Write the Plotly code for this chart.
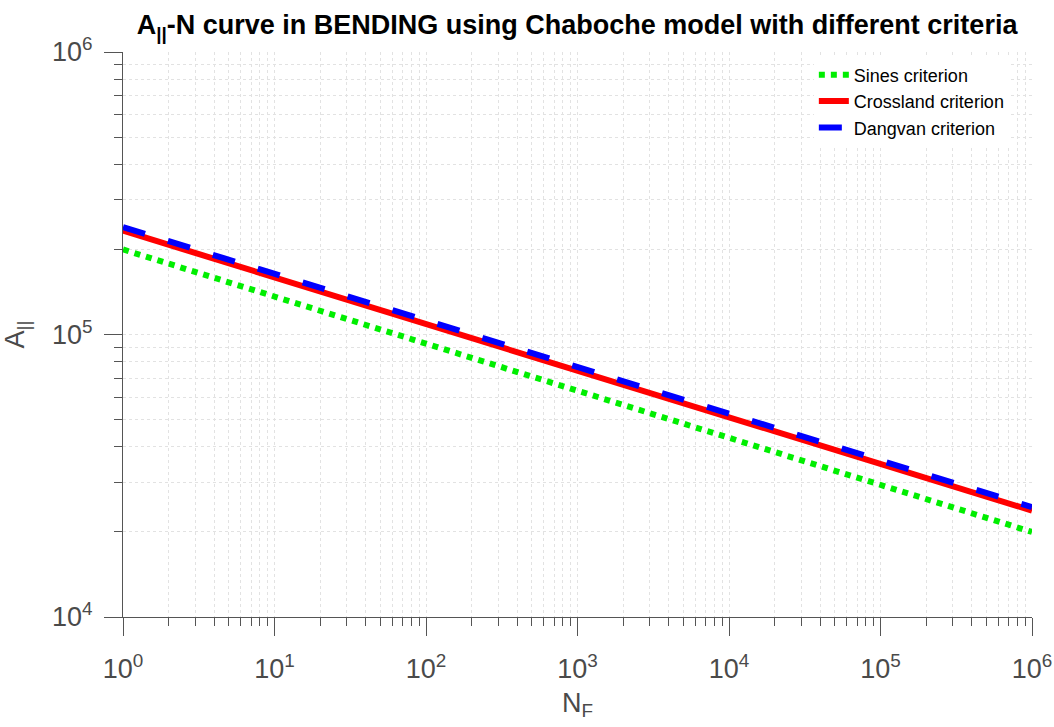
import plotly.graph_objects as go

# Data
N_F = [1, 1e1, 1e2, 1e3, 1e4, 1e5, 1e6]
sines = [2.0e5, 1.36e5, 9.3e4, 6.3e4, 4.3e4, 2.93e4, 2.0e4]
crossland = [2.33e5, 1.59e5, 1.09e5, 7.45e4, 5.08e4, 3.47e4, 2.38e4]
dangvan = [2.40e5, 1.64e5, 1.12e5, 7.67e4, 5.24e4, 3.58e4, 2.45e4]

x_exps = [0, 1, 2, 3, 4, 5, 6]
y_exps = [4, 5, 6]

font_fam = "Liberation Sans, Arial, Helvetica, sans-serif"
tick_col = "#4a4a4a"

fig = go.Figure()
fig.add_trace(go.Scatter(x=N_F, y=sines, mode="lines", name="Sines criterion",
                         line=dict(color="#00ee00", width=6, dash="6px,6px")))
fig.add_trace(go.Scatter(x=N_F, y=crossland, mode="lines", name="Crossland criterion",
                         line=dict(color="#ff0000", width=6)))
fig.add_trace(go.Scatter(x=N_F, y=dangvan, mode="lines", name="Dangvan criterion",
                         line=dict(color="#0000ff", width=6, dash="23px,24px")))

def minor_vals(lo, hi):
    v = []
    for e in range(lo, hi):
        for k in range(2, 10):
            v.append(k * 10 ** e)
    return v

fig.update_layout(
    width=1054, height=727,
    margin=dict(l=123, r=22, t=52, b=110),
    paper_bgcolor="white", plot_bgcolor="white",
    font=dict(family=font_fam, color=tick_col),
    title=dict(text="<b>A<sub>||</sub>-N curve in BENDING using Chaboche model with different criteria</b>",
               x=0.5475, xanchor="center", y=0.966, yanchor="middle",
               font=dict(size=27, color="black", family=font_fam)),
    showlegend=True,
    legend=dict(x=0.760, xanchor="left", y=0.992, yanchor="top",
                bgcolor="white", borderwidth=0,
                font=dict(size=18, color="black", family=font_fam),
                itemwidth=30, tracegroupgap=0),
)

fig.update_xaxes(
    type="log", range=[0, 6], automargin=False, ticklabeloverflow="allow",
    tickmode="array", tickvals=[10 ** e for e in x_exps],
    ticktext=[f"10<sup>{e}</sup>" for e in x_exps],
    ticks="outside", ticklen=18, tickcolor="#555555", tickwidth=1,
    tickfont=dict(size=27, color=tick_col), ticklabelstandoff=10,
    showline=True, linecolor="#555555", linewidth=1, mirror=False,
    showgrid=True, gridcolor="#e2e2e2", gridwidth=1, griddash="dot",
    zeroline=False,
    minor=dict(tickmode="array", tickvals=minor_vals(0, 6), ticks="outside",
               ticklen=8, tickcolor="#555555", showgrid=True,
               gridcolor="#e2e2e2", griddash="dot"),
    title=dict(text="N<sub>F</sub>", font=dict(size=27, color=tick_col), standoff=9),
)
fig.update_yaxes(
    type="log", range=[4, 6], automargin=False, ticklabeloverflow="allow",
    tickmode="array", tickvals=[10 ** e for e in y_exps],
    ticktext=[f"10<sup>{e}</sup>" for e in y_exps],
    ticks="outside", ticklen=18, tickcolor="#555555", tickwidth=1,
    tickfont=dict(size=27, color=tick_col), ticklabelstandoff=6,
    showline=True, linecolor="#555555", linewidth=1, mirror=False,
    showgrid=True, gridcolor="#e2e2e2", gridwidth=1, griddash="dot",
    zeroline=False,
    minor=dict(tickmode="array", tickvals=minor_vals(4, 6), ticks="outside",
               ticklen=8, tickcolor="#555555", showgrid=True,
               gridcolor="#e2e2e2", griddash="dot"),
    title=dict(text="A<sub>||</sub>", font=dict(size=27, color=tick_col), standoff=20),
)

fig.write_html("out.html")
